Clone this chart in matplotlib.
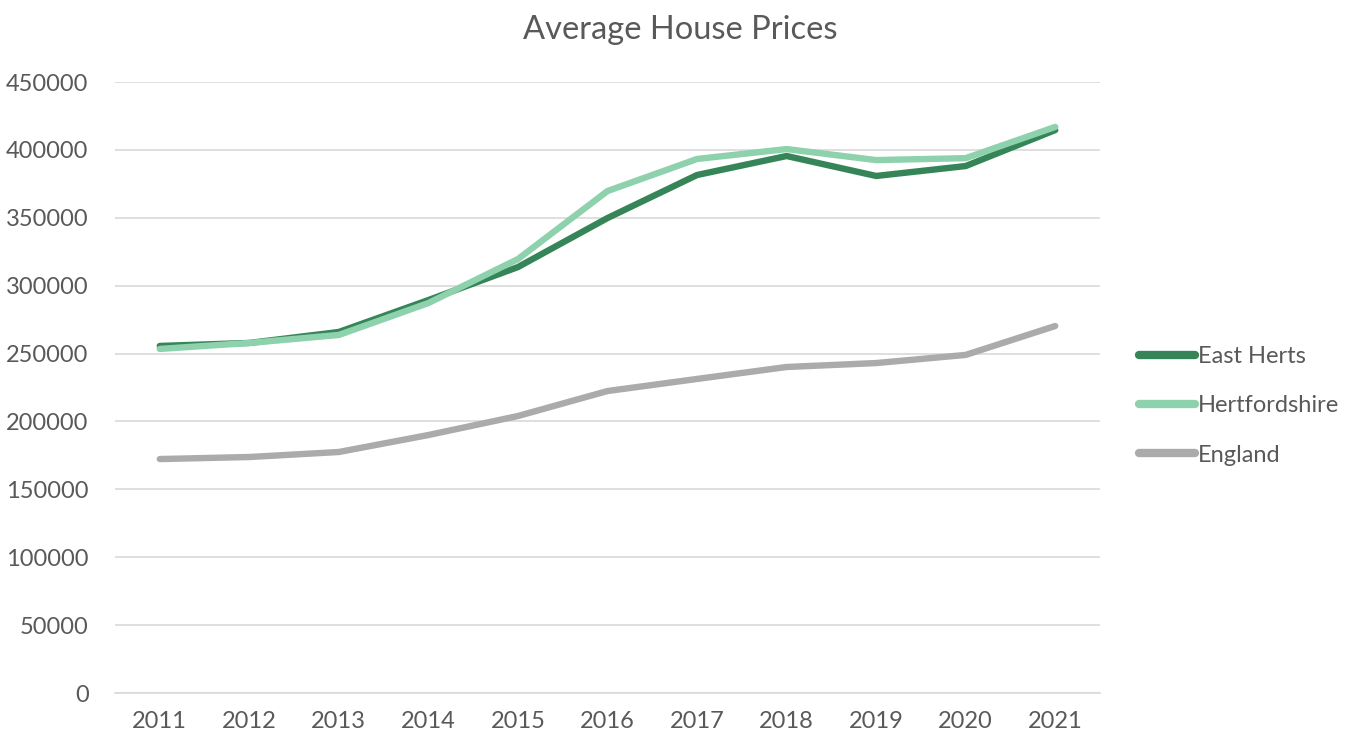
import matplotlib
matplotlib.use("Agg")
import matplotlib.pyplot as plt

years = ["2011", "2012", "2013", "2014", "2015", "2016", "2017", "2018", "2019", "2020", "2021"]
east_herts = [255600, 257800, 265900, 289400, 313700, 349800, 381500, 395500, 380800, 388100, 414600]
hertfordshire = [253400, 257800, 263700, 287200, 319600, 369700, 393300, 400600, 392500, 393900, 416900]
england = [172300, 173800, 177500, 190000, 204000, 222400, 231300, 240100, 243000, 249000, 270300]
y_ticks = list(range(0, 450001, 50000))

plt.rcParams["font.family"] = ["Lato", "DejaVu Sans"]
text_col = "#595959"

fig = plt.figure(figsize=(13.61, 7.40), dpi=100)
ax = fig.add_axes([115 / 1361, 47 / 740, 985 / 1361, 611 / 740])

x = range(len(years))
ax.plot(x, east_herts, color="#358558", lw=4.6, solid_capstyle="round", label="East Herts")
ax.plot(x, hertfordshire, color="#8ed1ad", lw=4.6, solid_capstyle="round", label="Hertfordshire")
ax.plot(x, england, color="#ababab", lw=4.6, solid_capstyle="round", label="England")

ax.set_xlim(-0.5, len(years) - 0.5)
ax.set_ylim(0, 450000)
ax.set_xticks(list(x))
ax.set_xticklabels(years)
ax.set_yticks(y_ticks)
ax.set_yticklabels([str(v) for v in y_ticks])
ax.tick_params(axis="both", length=0, labelsize=17, colors=text_col)
ax.tick_params(axis="x", pad=13)
ax.tick_params(axis="y", pad=19)

ax.grid(axis="y", color="#d9d9d9", lw=1.2)
ax.set_axisbelow(True)
for s in ["top", "right", "left"]:
    ax.spines[s].set_visible(False)
ax.spines["bottom"].set_color("#d9d9d9")
ax.spines["bottom"].set_linewidth(1.2)

fig.text(680 / 1361, 1 - 30 / 740, "Average House Prices", ha="center", va="center",
         fontsize=23.5, color=text_col)

leg = ax.legend(loc="center left", bbox_to_anchor=(1.04, 0.47), frameon=False,
                fontsize=17, handlelength=2.35, handletextpad=0.12, labelspacing=1.2,
                borderaxespad=0, borderpad=0, labelcolor=text_col)
for h in leg.get_lines():
    h.set_linewidth(6)

fig.savefig("out.png", dpi=100)
